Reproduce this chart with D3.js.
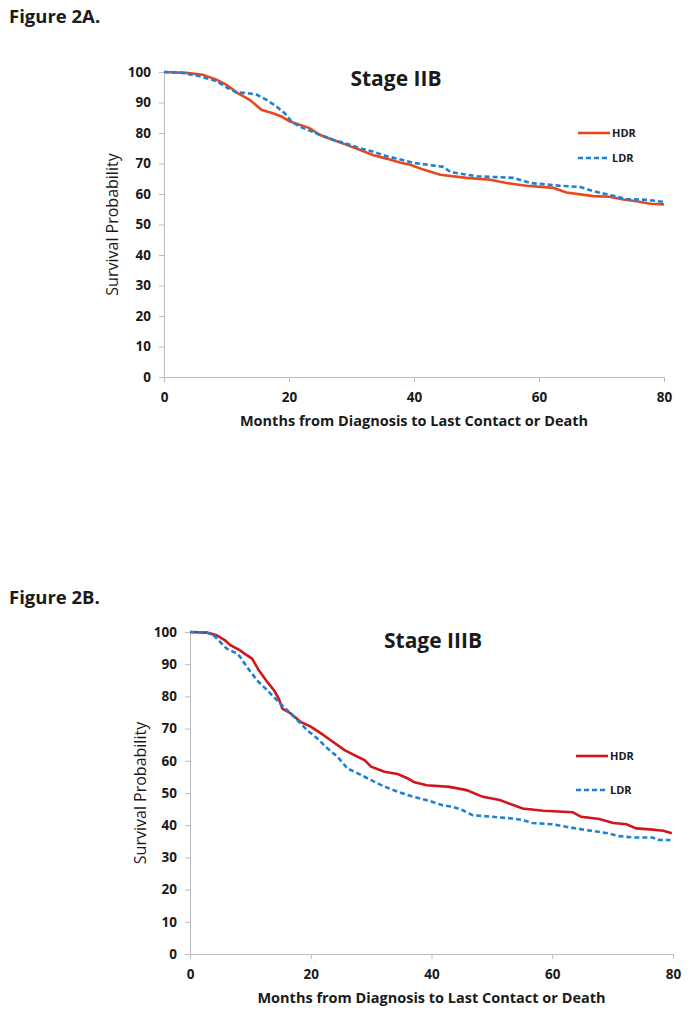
<!DOCTYPE html>
<html>
<head>
<meta charset="utf-8">
<script src="https://cdn.jsdelivr.net/npm/d3@7/dist/d3.min.js"></script>
<style>
  body { margin: 0; background: #fff; }
  text { font-family: "Open Sans", sans-serif; fill: #1a1a1a; }
</style>
</head>
<body>
<div id="fig"></div>
<script>
// tick values
var xTicks = [0, 20, 40, 60, 80];
var yTicks = [0, 10, 20, 30, 40, 50, 60, 70, 80, 90, 100];
var seriesNames = ["HDR", "LDR"];

// Stage IIB curves, [month, survival %]
var hdrIIB = [[0,100],[3.6,99.7],[6.2,99.1],[8.4,97.5],[10,95.8],[11.8,93.1],[13.7,90.9],[15.6,87.6],
  [17.4,86.5],[18.8,85.4],[20.1,83.8],[21.7,82.7],[23.3,81.6],[24.9,79.4],[27,77.8],[29.2,76.1],
  [31.3,74.5],[33.4,72.8],[35.6,71.6],[37.7,70.3],[39.4,69.6],[41.5,68],[44.2,66.3],[48.4,65.3],
  [52.2,64.7],[54.8,63.6],[58,62.7],[62.3,62],[64.4,60.5],[68.7,59.3],[71.3,59.1],[73.5,58.2],
  [75.6,57.6],[77.8,56.8],[80,56.6]];
var ldrIIB = [[0,100],[3,99.7],[5.7,98.6],[8.4,97],[10.2,94.7],[11.6,93.3],[13.2,93.1],[14.8,92.6],
  [16.4,90.9],[18,88.7],[19.3,86.5],[20.4,83.8],[21.7,82.1],[23.3,80.8],[24.9,79.4],[27,77.8],
  [29.2,76.5],[31.3,75],[33.4,73.9],[35.6,72.4],[37.7,71.4],[39.9,70.2],[44.7,68.9],[45.8,67.2],
  [50.1,65.8],[55.9,65.3],[58.6,63.6],[63.4,62.7],[66.6,62.3],[68.7,60.9],[71.9,59.4],[74.1,58.3],
  [77.2,58.1],[80,57.4]];

// Stage IIIB curves, [month, survival %]
var hdrIIIB = [[0,100],[2.8,99.8],[4.4,99],[5.8,97.4],[6.7,95.9],[8.3,94.3],[9.4,92.8],[10.3,91.7],
  [11.4,88.1],[12.8,84.5],[13.9,81.9],[14.7,79.3],[15.3,76.2],[16.7,74.7],[18.3,72.1],[20,70.6],
  [21.7,68.5],[23.3,66.4],[25.6,63.3],[27.8,61.2],[28.9,60.2],[30,58.2],[32.2,56.6],[34.4,55.9],
  [36.1,54.5],[37.2,53.3],[39.2,52.4],[43,51.9],[45.8,50.9],[48.5,48.8],[51.3,47.8],[55.1,45.2],
  [58.5,44.5],[63.4,44],[64.8,42.6],[67.8,41.9],[70.1,40.7],[72.3,40.3],[73.9,39],[76.2,38.7],
  [78.4,38.3],[79.8,37.5]];
var ldrIIIB = [[0,100],[2.8,99.8],[3.9,99],[5,96.9],[6.1,94.8],[7.8,93.3],[8.3,92.3],[9.4,89.2],
  [11.1,85],[12.8,81.9],[14.4,78.8],[16.1,75.7],[17.8,72.6],[19.4,69.5],[21.1,66.9],[22.8,63.8],
  [24.4,61.3],[26.1,57.6],[27.8,56.1],[30,54],[32.2,52],[34.4,50.4],[36.7,49],[39.6,47.6],
  [41.8,46.2],[43.5,45.7],[45.1,44.7],[46.8,43.1],[50.1,42.6],[53.4,42.1],[55.1,41.6],[56.7,40.7],
  [60,40.3],[62.3,39.5],[65.6,38.5],[68.9,37.6],[71.1,36.6],[73.3,36.2],[76.6,36.2],[77.7,35.4],
  [79.6,35.4]];

var svg = d3.select("#fig").append("svg")
    .attr("width", 695)
    .attr("height", 1021);

function drawPanel(p) {
  var x = d3.scaleLinear().domain([0, 80]).range([p.left, p.right]);
  var y = d3.scaleLinear().domain([0, 100]).range([p.bottom, p.top]);
  var g = svg.append("g");

  // figure label
  g.append("text")
    .attr("x", 9).attr("y", p.figY)
    .style("font-size", "18.5px").style("font-weight", "bold")
    .text(p.figLabel);

  // axes
  var xAxis = g.append("g")
    .attr("transform", "translate(0," + p.bottom + ")")
    .call(d3.axisBottom(x).tickValues(xTicks).tickSize(5).tickPadding(8));
  var yAxis = g.append("g")
    .attr("transform", "translate(" + p.left + ",0)")
    .call(d3.axisLeft(y).tickValues(yTicks).tickSize(5).tickPadding(8));
  [xAxis, yAxis].forEach(function(a) {
    a.select(".domain").attr("stroke", "#bdbdbd");
    a.selectAll(".tick line").attr("stroke", "#bdbdbd");
    a.selectAll(".tick text")
      .style("font-family", "\"Open Sans\", sans-serif")
      .style("font-size", "13.5px").style("font-weight", "bold")
      .attr("fill", "#1a1a1a");
  });
  xAxis.selectAll(".tick text").attr("dy", "0.9em");

  // axis titles
  g.append("text")
    .attr("x", (p.left + p.right) / 2).attr("y", p.xTitleY)
    .attr("text-anchor", "middle")
    .style("font-size", "14.5px").style("font-weight", "bold")
    .text("Months from Diagnosis to Last Contact or Death");
  g.append("text")
    .attr("transform", "translate(" + p.yTitleX + "," + ((p.top + p.bottom) / 2) + ") rotate(-90)")
    .attr("text-anchor", "middle")
    .style("font-size", "16px")
    .text("Survival Probability");

  // chart title
  g.append("text")
    .attr("x", p.titleX).attr("y", p.titleY)
    .attr("text-anchor", "middle")
    .style("font-size", "21px").style("font-weight", "bold")
    .text(p.title);

  // curves
  var line = d3.line()
    .x(function(d) { return x(d[0]); })
    .y(function(d) { return y(d[1]); });
  var styles = [
    {color: p.hdrColor, dash: null},
    {color: "#1f80d4", dash: "5,3"}
  ];
  [p.hdr, p.ldr].forEach(function(s, i) {
    g.append("path")
      .datum(s)
      .attr("fill", "none")
      .attr("stroke", styles[i].color)
      .attr("stroke-width", 2.6)
      .attr("stroke-dasharray", styles[i].dash)
      .attr("d", line);
  });

  // legend
  seriesNames.forEach(function(name, i) {
    var ly = p.legendY[i];
    g.append("line")
      .attr("x1", p.legendX).attr("x2", p.legendX + 32)
      .attr("y1", ly).attr("y2", ly)
      .attr("stroke", styles[i].color)
      .attr("stroke-width", 2.6)
      .attr("stroke-dasharray", styles[i].dash);
    g.append("text")
      .attr("x", p.legendX + 34).attr("y", ly)
      .attr("dy", "0.35em")
      .style("font-size", "11px").style("font-weight", "bold")
      .text(name);
  });
}

drawPanel({
  figLabel: "Figure 2A.", figY: 23,
  left: 164, right: 664, top: 72, bottom: 377,
  title: "Stage IIB", titleX: 396, titleY: 86,
  xTitleY: 426, yTitleX: 118,
  hdr: hdrIIB, ldr: ldrIIB, hdrColor: "#e8481c",
  legendX: 578, legendY: [133, 158]
});

drawPanel({
  figLabel: "Figure 2B.", figY: 604,
  left: 190, right: 673, top: 632, bottom: 954,
  title: "Stage IIIB", titleX: 433, titleY: 648,
  xTitleY: 1003, yTitleX: 146,
  hdr: hdrIIIB, ldr: ldrIIIB, hdrColor: "#d0161c",
  legendX: 576, legendY: [756, 790]
});
</script>
</body>
</html>
